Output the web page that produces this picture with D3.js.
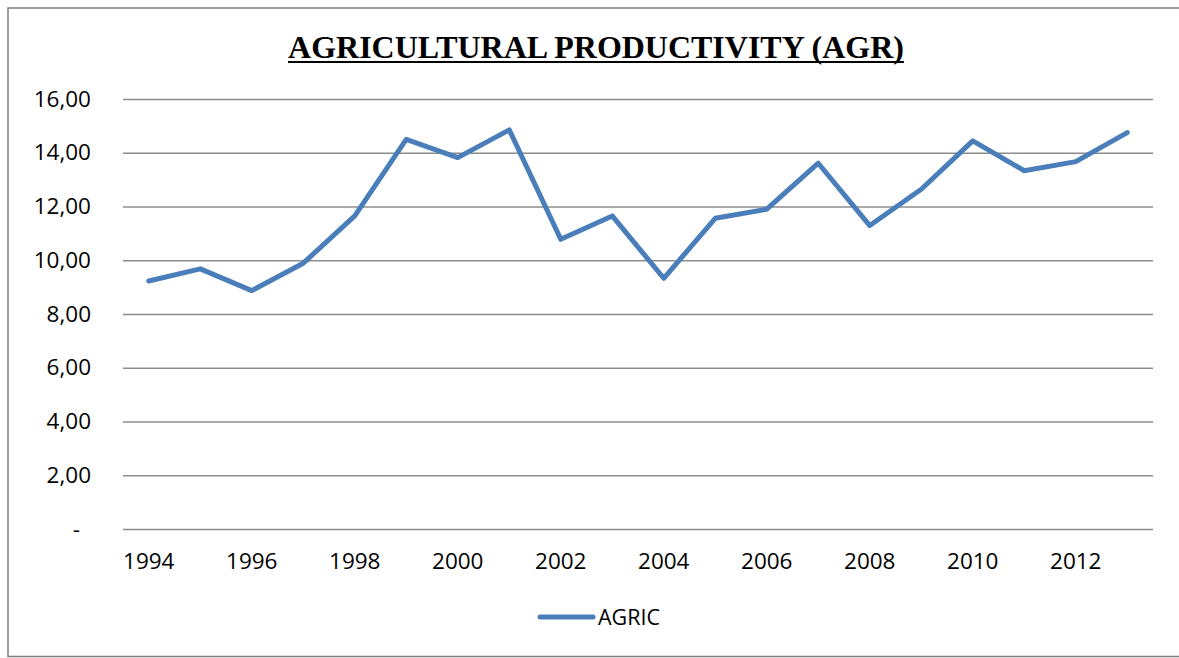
<!DOCTYPE html>
<html>
<head>
<meta charset="utf-8">
<script src="https://cdn.jsdelivr.net/npm/d3@7"></script>
<style>
  html, body { margin: 0; padding: 0; background: #fff; }
  svg { display: block; }
</style>
</head>
<body>
<svg id="chart" width="1179" height="658"></svg>
<script>
// Agricultural productivity series, 1994–2013
const years = [1994, 1995, 1996, 1997, 1998, 1999, 2000, 2001, 2002, 2003,
               2004, 2005, 2006, 2007, 2008, 2009, 2010, 2011, 2012, 2013];
const agric = [9.23, 9.68, 8.87, 9.89, 11.65, 14.50, 13.82, 14.85, 10.78, 11.65,
               9.33, 11.56, 11.90, 13.61, 11.29, 12.64, 14.44, 13.33, 13.67, 14.75];
const yTicks = [0, 2, 4, 6, 8, 10, 12, 14, 16];
const xLabelYears = [1994, 1996, 1998, 2000, 2002, 2004, 2006, 2008, 2010, 2012];
const seriesName = "AGRIC";
const titleText = "AGRICULTURAL PRODUCTIVITY (AGR)";

const svg = d3.select("#chart");
const W = 1179, H = 658;
const plot = { left: 123, right: 1153, top: 99, bottom: 529 };
const lineColor = "#4a7ebb";
const gridColor = "#8c8c8c";
const labelFont = "'Open Sans', 'Liberation Sans', sans-serif";
const labelSize = "22.5px";

// Outer chart frame (right side runs past the canvas)
svg.append("rect")
  .attr("x", 8).attr("y", 8)
  .attr("width", W + 10).attr("height", 648.5)
  .attr("fill", "#fff")
  .attr("stroke", "#7f7f7f").attr("stroke-width", 1.5);

const x = d3.scaleBand().domain(years).range([plot.left, plot.right]);
const y = d3.scaleLinear().domain([0, 16]).range([plot.bottom, plot.top]);

// Horizontal gridlines with value labels
const yAxis = d3.axisLeft(y)
  .tickValues(yTicks)
  .tickSize(-(plot.right - plot.left))
  .tickPadding(32)
  .tickFormat(d => d === 0 ? "-" : d3.format(".2f")(d).replace(".", ","));

const gy = svg.append("g")
  .attr("transform", `translate(${plot.left},0)`)
  .call(yAxis);
gy.select(".domain").remove();
gy.selectAll(".tick line").attr("stroke", gridColor).attr("stroke-width", 1.6);
gy.selectAll(".tick text")
  .attr("fill", "#000")
  .style("font-family", labelFont)
  .style("font-size", labelSize)
  .attr("dx", d => d === 0 ? -11 : 0);

// Year labels under the axis, every second year
const xAxis = d3.axisBottom(x)
  .tickValues(xLabelYears)
  .tickSize(0)
  .tickPadding(24)
  .tickFormat(d3.format("d"));
const gx = svg.append("g")
  .attr("transform", `translate(0,${plot.bottom})`)
  .call(xAxis);
gx.select(".domain").remove();
gx.selectAll(".tick text")
  .attr("fill", "#000")
  .style("font-family", labelFont)
  .style("font-size", labelSize);

// Series line
const line = d3.line()
  .x((d, i) => x(years[i]) + x.bandwidth() / 2)
  .y(d => y(d));
svg.append("path")
  .datum(agric)
  .attr("d", line)
  .attr("fill", "none")
  .attr("stroke", lineColor)
  .attr("stroke-width", 5)
  .attr("stroke-linejoin", "round")
  .attr("stroke-linecap", "round");

// Title, bold serif and underlined
const title = svg.append("text")
  .attr("x", 596).attr("y", 58)
  .attr("text-anchor", "middle")
  .style("font-family", "'Liberation Serif', 'Times New Roman', serif")
  .style("font-weight", "bold")
  .style("font-size", "30px")
  .attr("fill", "#000")
  .text(titleText);
const tw = title.node().getComputedTextLength();
const titleWidth = 616;
title.style("font-size", (30 * titleWidth / tw).toFixed(2) + "px");
svg.append("line")
  .attr("x1", 596 - titleWidth / 2).attr("x2", 596 + titleWidth / 2)
  .attr("y1", 62).attr("y2", 62)
  .attr("stroke", "#000").attr("stroke-width", 2);

// Legend
const legend = svg.append("g").attr("transform", "translate(540,617)");
legend.append("line")
  .attr("x1", 0).attr("x2", 53)
  .attr("stroke", lineColor).attr("stroke-width", 5)
  .attr("stroke-linecap", "round");
legend.append("text")
  .attr("x", 58).attr("y", 0).attr("dy", "0.35em")
  .style("font-family", labelFont)
  .style("font-size", "21.5px")
  .attr("fill", "#000")
  .text(seriesName);
</script>
</body>
</html>
